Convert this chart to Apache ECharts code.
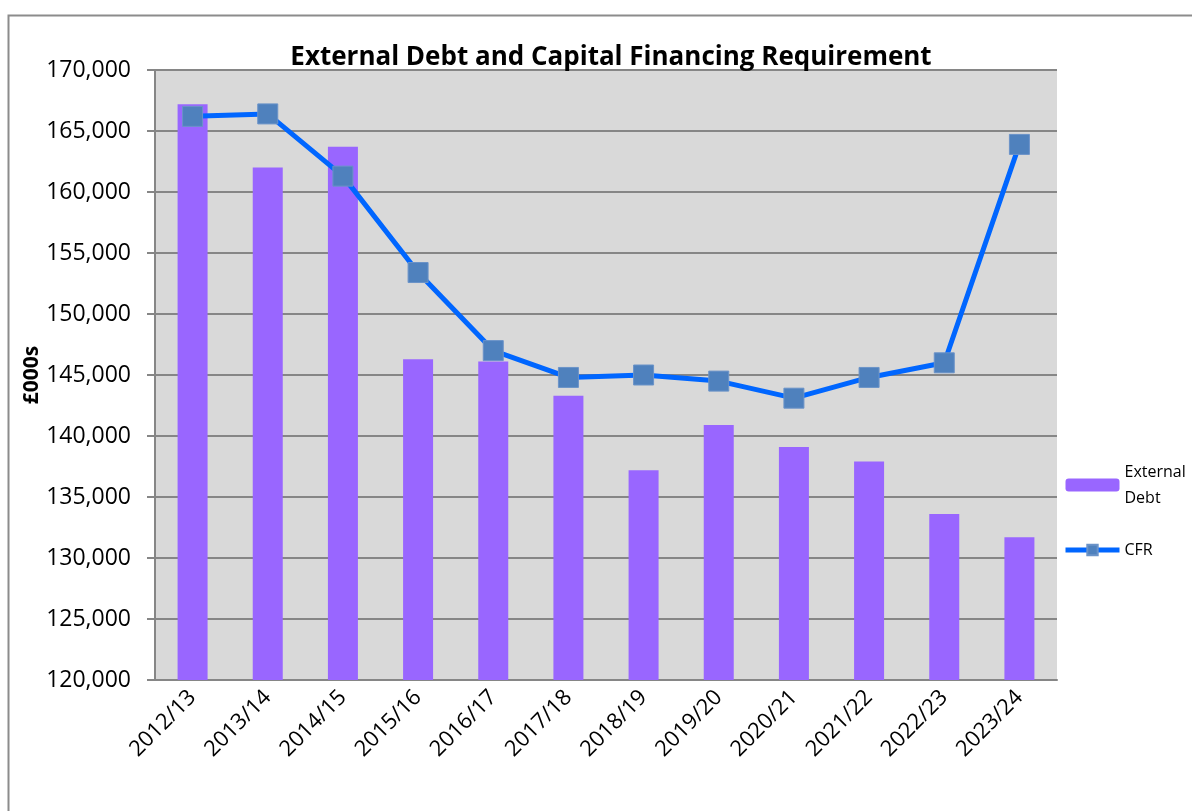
<!DOCTYPE html>
<html>
<head>
<meta charset="utf-8">
<script src="https://cdn.jsdelivr.net/npm/echarts@6/dist/echarts.min.js"></script>
<style>
  html, body { margin: 0; padding: 0; background: #fff; }
  #chart { width: 1192px; height: 811px; }
</style>
</head>
<body>
<div id="chart"></div>
<script>
// years along the x axis
var years = ['2012/13','2013/14','2014/15','2015/16','2016/17','2017/18',
             '2018/19','2019/20','2020/21','2021/22','2022/23','2023/24'];
// £000s
var externalDebt = [167200, 162000, 163700, 146300, 146100, 143300,
                    137200, 140900, 139100, 137900, 133600, 131700];
var cfr = [166200, 166400, 161300, 153400, 147000, 144800,
           145000, 144500, 143100, 144800, 146000, 163900];

var font = '"Open Sans", "Liberation Sans", sans-serif';
var chart = echarts.init(document.getElementById('chart'));

var option = {
  backgroundColor: '#fff',
  animation: false,
  title: {
    text: 'External Debt and Capital Financing Requirement',
    left: 606,
    textAlign: 'center',
    top: 40,
    textStyle: { fontFamily: font, fontSize: 26, fontWeight: 'bold', color: '#000' }
  },
  graphic: [{
    type: 'rect',
    shape: { x: 8.5, y: 15.5, width: 1200, height: 900 },
    style: { fill: 'none', stroke: '#8c8c8c', lineWidth: 2 },
    silent: true
  }],
  grid: {
    left: 155,
    right: 135,
    top: 70,
    bottom: 131,
    show: true,
    backgroundColor: '#d9d9d9',
    borderWidth: 0
  },
  legend: {
    orient: 'vertical',
    left: 1058,
    top: 454,
    itemGap: 26,
    itemWidth: 54,
    itemHeight: 13,
    textStyle: { fontFamily: font, fontSize: 16, color: '#000', lineHeight: 26 },
    formatter: function (n) { return n === 'External Debt' ? 'External\nDebt' : n; },
    data: [
      { name: 'External Debt' },
      { name: 'CFR', lineStyle: { width: 5, color: '#0066ff' } }
    ]
  },
  xAxis: {
    type: 'category',
    data: years,
    axisLine: { lineStyle: { color: '#868686', width: 2 } },
    axisTick: { show: false },
    axisLabel: {
      rotate: 45,
      margin: 14,
      fontFamily: font,
      fontSize: 22,
      color: '#000'
    }
  },
  yAxis: {
    type: 'value',
    min: 120000,
    max: 170000,
    interval: 5000,
    name: '£000s',
    nameLocation: 'middle',
    nameGap: 112,
    nameMoveOverlap: false,
    nameTextStyle: { fontFamily: font, fontSize: 21, fontWeight: 'bold', color: '#000' },
    axisLine: { show: true, lineStyle: { color: '#868686', width: 2 } },
    axisTick: { show: true, length: 8, lineStyle: { color: '#868686', width: 2 } },
    splitLine: { lineStyle: { color: '#868686', width: 2 } },
    axisLabel: {
      margin: 24,
      fontFamily: font,
      fontSize: 23,
      color: '#000',
      formatter: function (v) { return v.toLocaleString('en-GB'); }
    }
  },
  series: [
    {
      name: 'External Debt',
      type: 'bar',
      data: externalDebt,
      barWidth: 30,
      itemStyle: { color: '#9966ff' }
    },
    {
      name: 'CFR',
      type: 'line',
      data: cfr,
      symbol: 'rect',
      symbolSize: 20,
      lineStyle: { color: '#0066ff', width: 5 },
      itemStyle: { color: '#4f81bd', borderColor: '#6b93c8', borderWidth: 1 }
    }
  ]
};

chart.setOption(option);
</script>
</body>
</html>
